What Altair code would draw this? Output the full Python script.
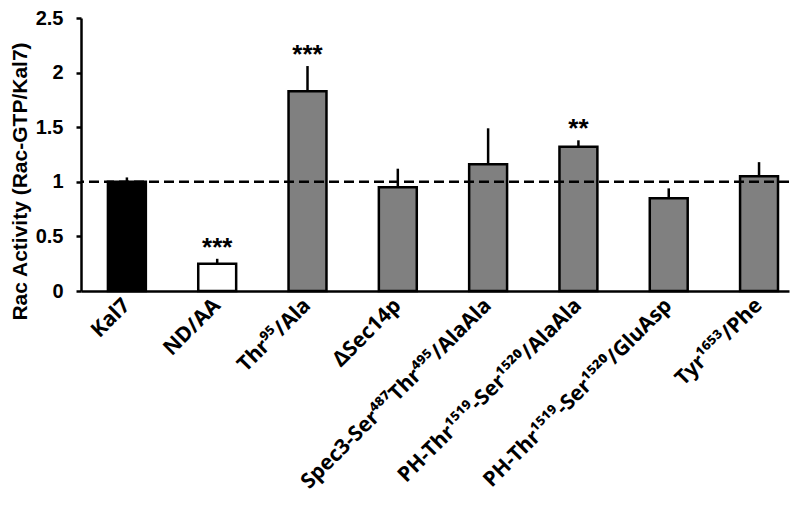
import altair as alt
import pandas as pd

labels = [
    "Kal7",
    "ND/AA",
    "Thr⁹⁵/Ala",
    "ΔSec14p",
    "Spec3-Ser⁴⁸⁷Thr⁴⁹⁵/AlaAla",
    "PH-Thr¹⁵¹⁹-Ser¹⁵²⁰/AlaAla",
    "PH-Thr¹⁵¹⁹-Ser¹⁵²⁰/GluAsp",
    "Tyr¹⁶⁵³/Phe",
]
means = [1.0, 0.25, 1.83, 0.95, 1.16, 1.32, 0.85, 1.05]
err_top = [1.04, 0.295, 2.06, 1.12, 1.49, 1.38, 0.94, 1.18]
groups = ["wild type", "inactive", "mutant", "mutant", "mutant", "mutant", "mutant", "mutant"]
stars = ["", "***", "***", "", "", "**", "", ""]
ref_line = [1.0]
y_ticks = [0, 0.5, 1, 1.5, 2, 2.5]

group_domain = ["wild type", "inactive", "mutant"]
group_colors = ["#000000", "#ffffff", "#808080"]

df = pd.DataFrame({"label": labels, "mean": means, "err": err_top,
                   "group": groups, "star": stars})
df_stars = df[df["star"] != ""]
df_ref = pd.DataFrame({"ref": ref_line})

FONT = "Liberation Sans, Arial, Helvetica, sans-serif"
XFONT = "Noto Sans, DejaVu Sans, sans-serif"

xscale = alt.Scale(domain=labels, paddingInner=0.58, paddingOuter=0.21, align=0.71)
yscale = alt.Scale(domain=[0, 2.5], nice=False, zero=True)

x_enc = alt.X("label:N", sort=labels, scale=xscale,
              axis=alt.Axis(title=None, labelAngle=-45, labelAlign="right",
                            labelBaseline="middle", labelFontSize=21,
                            labelFont=XFONT, labelFontWeight="bold",
                            labelLimit=600, labelPadding=11, ticks=False,
                            domainWidth=2.5, domainColor="black",
                            labelColor="black", labelOverlap=False, grid=False))
y_enc = alt.Y("mean:Q", scale=yscale,
              axis=alt.Axis(title="Rac Activity (Rac-GTP/Kal7)",
                            values=y_ticks, format="~g",
                            labelFont=FONT, labelFontWeight="bold",
                            labelColor="black",
                            labelFontSize=20, tickSize=5, tickWidth=2.5,
                            tickColor="black", domainColor="black",
                            domainWidth=2.5, labelPadding=13, grid=False,
                            titleFontSize=21, titleFontWeight="bold",
                            titleFont=FONT, titleColor="black",
                            titleX=-61, titleY=163,
                            titleBaseline="middle", titleAlign="center",
                            titleAngle=270))

bars = alt.Chart(df).mark_bar(stroke="black", strokeWidth=2.5).encode(
    x=x_enc,
    y=y_enc,
    fill=alt.Fill("group:N", scale=alt.Scale(domain=group_domain, range=group_colors),
                  legend=None),
)

errs = alt.Chart(df).mark_rule(color="black", strokeWidth=2.5).encode(
    x=alt.X("label:N", sort=labels, scale=xscale),
    y=alt.Y("mean:Q", scale=yscale),
    y2="err:Q",
)

ref = alt.Chart(df_ref).mark_rule(color="black", strokeWidth=2.5,
                                  strokeDash=[10, 5]).encode(
    y=alt.Y("ref:Q", scale=yscale),
)

star_text = alt.Chart(df_stars).mark_text(
    font=FONT, fontSize=26, fontWeight="bold", baseline="alphabetic",
    align="center", dy=-3, color="black",
).encode(
    x=alt.X("label:N", sort=labels, scale=xscale),
    y=alt.Y("err:Q", scale=yscale),
    text="star:N",
)

chart = alt.layer(bars, errs, ref, star_text).properties(
    width=708, height=273,
    background="white",
    autosize=alt.AutoSizeParams(type="none"),
    padding={"left": 73, "top": 10, "right": 3, "bottom": 207},
).configure_view(stroke=None)

chart.save("out.html", embed_options={"renderer": "svg", "actions": False})
